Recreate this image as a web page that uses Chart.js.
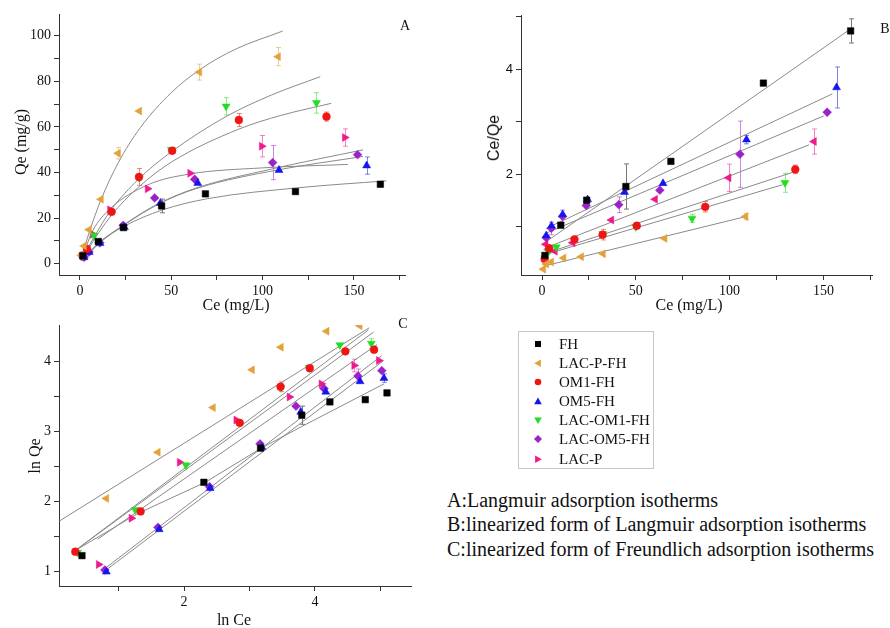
<!DOCTYPE html>
<html>
<head>
<meta charset="utf-8">
<script src="https://cdn.jsdelivr.net/npm/chart.js@4.4.1/dist/chart.umd.min.js"></script>
<style>
  body { margin: 0; background: #fff; width: 890px; height: 628px; position: relative; overflow: hidden;
         font-family: 'Liberation Serif', 'Times New Roman', serif; color: #111; }
  canvas { position: absolute; }
  .t { position: absolute; white-space: nowrap; line-height: 1; transform: translate(-50%, -50%); }
  .r { transform: translate(-50%, -50%) rotate(-90deg); }
  .cap { position: absolute; left: 447px; font-size: 20px; white-space: nowrap; line-height: 1; transform: translateY(-50%); }
  #legend { position: absolute; left: 518px; top: 331px; width: 134px; height: 136px; border: 1px solid #c8c8c8; }
  .li { position: absolute; left: 0; font-size: 15px; line-height: 1; }
  .li svg { position: absolute; left: 14px; top: -5px; }
  .li span { position: absolute; left: 40px; top: -7px; white-space: nowrap; }
</style>
</head>
<body>
<canvas id="chartA" width="430" height="310" style="left:0;top:0"></canvas>
<canvas id="chartB" width="430" height="310" style="left:460px;top:0"></canvas>
<canvas id="chartC" width="430" height="318" style="left:0;top:310px"></canvas>

<div class="t" style="left:405px;top:26px;font-size:14px">A</div>
<div class="t" style="left:885px;top:29px;font-size:14px">B</div>
<div class="t" style="left:403px;top:324px;font-size:14px">C</div>

<div class="t r" style="left:21px;top:142px;font-size:16px">Qe (mg/g)</div>
<div class="t" style="left:236px;top:305px;font-size:16px">Ce (mg/L)</div>
<div class="t r" style="left:494px;top:138px;font-size:16px;font-family:'Liberation Sans',Arial,sans-serif">Ce/Qe</div>
<div class="t" style="left:689px;top:305px;font-size:16px">Ce (mg/L)</div>
<div class="t r" style="left:35px;top:456px;font-size:16px">ln Qe</div>
<div class="t" style="left:234px;top:620px;font-size:16px">ln Ce</div>

<div id="legend"></div>

<div class="cap" style="top:500px">A:Langmuir adsorption isotherms</div>
<div class="cap" style="top:524px">B:linearized form of Langmuir adsorption isotherms</div>
<div class="cap" style="top:549px">C:linearized form of Freundlich adsorption isotherms</div>

<script>
// series
const seriesNames = ['FH', 'LAC-P-FH', 'OM1-FH', 'OM5-FH', 'LAC-OM1-FH', 'LAC-OM5-FH', 'LAC-P'];
const seriesColors = ['#000000', '#e3a13a', '#f01414', '#1414f0', '#22dd22', '#9a22c8', '#ee1a8c'];
const pointStyles = ['rect', 'triangle', 'circle', 'triangle', 'triangle', 'rectRot', 'triangle'];
const pointSizes = [4.6, 4.6, 3.9, 4.6, 4.6, 4.4, 4.6];
const rotationsAC = [0, -90, 0, 0, 180, 0, 90];
const rotationsB = [0, -90, 0, 0, 180, 0, -90];

// equilibrium concentration Ce (mg/L) and uptake Qe (mg/g)
const ceFH = [1.55, 10, 23.8, 44.7, 68.7, 118, 164.5];
const qeFH = [3.4, 9.7, 15.8, 25.3, 30.6, 31.6, 34.8];
const ceLacPFH = [0.7, 2.25, 4.95, 11.5, 20.9, 32.5, 65.4, 108.5];
const qeLacPFH = [3.6, 7.7, 14.9, 28.2, 48.4, 66.9, 84, 90.8];
const ceOM1 = [1.4, 3.8, 17.3, 32.3, 50.5, 87, 135];
const qeOM1 = [3.6, 6.4, 22.7, 38, 49.5, 63, 64.5];
const ceOM5 = [2.25, 5.05, 11, 24.3, 44, 64.5, 109, 157];
const qeOM5 = [2.7, 4.95, 8.9, 16, 26.5, 35.3, 41, 43];
const ceLacOM1 = [1.45, 3.5, 7.6, 32.5, 50, 80, 129.5];
const qeLacOM1 = [3.56, 6.55, 12.4, 37.5, 50, 69, 70.5];
const ceLacOM5 = [2.2, 4.95, 10.9, 23.6, 40.9, 62.8, 105.5, 152];
const qeLacOM5 = [2.77, 5.1, 9.1, 16.8, 28.8, 37, 44.3, 47.8];
const ceLacP = [2.0, 3.3, 6.9, 16.4, 37, 60.3, 99.5, 145];
const qeLacP = [3.0, 5.8, 12.9, 23.6, 32.8, 39.6, 51.5, 55.3];

const ceAll = [ceFH, ceLacPFH, ceOM1, ceOM5, ceLacOM1, ceLacOM5, ceLacP];
const qeAll = [qeFH, qeLacPFH, qeOM1, qeOM5, qeLacOM1, qeLacOM5, qeLacP];

// fitted curves (Ce, Qe)
const curvesA = [
  [[1.5, 1.8], [10, 9], [24, 16.3], [45, 23.5], [70, 28.5], [120, 33.3], [167.8, 36.3]],
  [[0.7, 2.1], [2.5, 7], [5, 13.6], [11.5, 28], [20.8, 44], [33, 59.6], [50, 75], [66, 85.3], [85, 94], [111, 102]],
  [[1.4, 2.1], [3.8, 5.5], [17, 21], [32, 33.5], [50, 44.5], [87, 59], [110, 65], [137.6, 70.3]],
  [[2.25, 2.1], [5, 4.5], [11, 9.2], [24.3, 17], [44, 26.5], [64, 33], [109, 41.2], [155, 47]],
  [[1.45, 2.3], [3.5, 5.5], [7.6, 11.5], [17, 23.5], [32, 37], [50, 49], [80, 64.5], [105, 74], [131.6, 82]],
  [[2.2, 2.2], [5, 4.6], [11, 9.5], [23.6, 16.8], [41, 25.5], [63, 33], [105, 41.5], [155, 49.9]],
  [[2, 4.5], [7, 14.5], [16.4, 24], [37, 34.5], [60, 39.3], [100, 42], [146.7, 43.5]]
];
// fitted lines (Ce, Ce/Qe)
const linesB = [
  [[1.55, 0.7], [163.1, 4.73]],
  [[0.7, 0.25], [108.1, 1.19]],
  [[1.4, 0.49], [133.9, 2.04]],
  [[2.25, 0.97], [154.8, 3.53]],
  [[1.45, 0.47], [128.2, 1.8]],
  [[2.2, 0.88], [150.2, 3.11]],
  [[2.0, 0.6], [142.4, 2.56]]
];
// fitted lines (ln Ce, ln Qe)
const linesC = [
  [[0.34, 1.3], [1.3, 1.83], [2.32, 2.27], [3.18, 2.76], [3.8, 3.07], [5.06, 3.68]],
  [[0.096, 1.72], [4.83, 4.48]],
  [[0.34, 1.3], [4.9, 4.42]],
  [[0.81, 1.02], [5.05, 4.01]],
  [[0.34, 1.3], [4.82, 4.45]],
  [[0.79, 1.04], [5.02, 4.08]],
  [[0.68, 1.46], [4.95, 4.24]]
];

// error bars: [series, point, half height]
const errorsA = [[0, 3, 3], [1, 4, 2.5], [1, 6, 3.5], [1, 7, 4], [2, 3, 3.7], [2, 5, 2.8], [2, 6, 2],
                 [3, 7, 3.8], [4, 5, 3.8], [4, 6, 4.5], [5, 6, 7.5], [6, 6, 4.7], [6, 7, 3.8]];
const errorsB = [[0, 3, 0.43], [0, 6, 0.23], [0, 2, 0.05], [3, 7, 0.39], [3, 6, 0.08], [5, 6, 0.63],
                 [5, 4, 0.15], [5, 1, 0.12], [5, 2, 0.12], [6, 6, 0.26], [6, 7, 0.24], [2, 5, 0.1],
                 [2, 6, 0.08], [2, 3, 0.1], [4, 6, 0.18], [4, 5, 0.08], [1, 7, 0.06]];
const errorsC = [[0, 3, 0.13], [6, 6, 0.09], [5, 6, 0.1], [2, 3, 0.07], [4, 6, 0.07], [3, 7, 0.06]];

// ticks
const ticksAx = [0, 25, 50, 75, 100, 125, 150, 175];
const labelsAx = [0, 50, 100, 150];
const ticksAy = [0, 10, 20, 30, 40, 50, 60, 70, 80, 90, 100];
const labelsAy = [0, 20, 40, 60, 80, 100];
const ticksBy = [1, 2, 3, 4, 5];
const labelsBy = [2, 4];
const ticksCx = [1, 2, 3, 4, 5];
const labelsCx = [2, 4];
const ticksCy = [1, 1.5, 2, 2.5, 3, 3.5, 4];
const labelsCy = [1, 2, 3, 4];

const serif = { family: "'Liberation Serif', 'Times New Roman', serif", size: 14 };
const sans = { family: "'Liberation Sans', Arial, sans-serif", size: 13 };

// draws vertical error bars behind the markers
const errorBars = {
  id: 'errorBars',
  beforeDatasetsDraw(chart, args, opts) {
    const ctx = chart.ctx;
    const xs = chart.scales.x, ys = chart.scales.y;
    ctx.save();
    ctx.lineWidth = 1;
    opts.list.forEach(([s, i, e]) => {
      const p = chart.data.datasets[s].data[i];
      if (!p || p.x < xs.min || p.x > xs.max) return;
      const px = Math.round(xs.getPixelForValue(p.x)) + 0.5;
      const y1 = ys.getPixelForValue(p.y - e);
      const y2 = ys.getPixelForValue(p.y + e);
      ctx.strokeStyle = seriesColors[s] === '#000000' ? '#777777' : seriesColors[s] + '88';
      ctx.beginPath();
      ctx.moveTo(px, y1); ctx.lineTo(px, y2);
      ctx.moveTo(px - 2.5, y1); ctx.lineTo(px + 2.5, y1);
      ctx.moveTo(px - 2.5, y2); ctx.lineTo(px + 2.5, y2);
      ctx.stroke();
    });
    ctx.restore();
  }
};

function pointSets(xsList, ysList, rot) {
  return seriesNames.map((name, s) => ({
    label: name,
    data: xsList[s].map((x, i) => ({ x: x, y: ysList[s][i] })),
    pointStyle: pointStyles[s],
    pointRotation: rot[s],
    pointRadius: pointSizes[s],
    pointHoverRadius: pointSizes[s],
    backgroundColor: seriesColors[s],
    borderColor: seriesColors[s],
    borderWidth: 0.5,
    showLine: false
  }));
}

function fitSets(lines, smooth) {
  return lines.map(pts => ({
    label: '',
    data: pts.map(p => ({ x: p[0], y: p[1] })),
    showLine: true,
    pointRadius: 0,
    borderColor: '#8a8a8a',
    borderWidth: 1,
    cubicInterpolationMode: smooth ? 'monotone' : 'default',
    fill: false
  }));
}

function axis(min, max, tickVals, labelVals, size, horizontal, font) {
  return {
    type: 'linear',
    min: min,
    max: max,
    afterBuildTicks: s => { s.ticks = tickVals.map(v => ({ value: v })); },
    afterFit: s => { if (horizontal) s.height = size; else s.width = size; },
    ticks: {
      autoSkip: false, maxRotation: 0, padding: 3, color: '#111', font: font,
      callback: v => labelVals.includes(v) ? String(v) : ''
    },
    grid: { drawOnChartArea: false, tickLength: 5, color: '#333', tickColor: '#333' },
    border: { color: '#333', width: 1 }
  };
}

function makeChart(id, datasets, errors, pad, xAxis, yAxis) {
  return new Chart(document.getElementById(id).getContext('2d'), {
    type: 'scatter',
    data: { datasets: datasets },
    options: {
      responsive: false,
      animation: false,
      events: [],
      layout: { padding: pad },
      plugins: { legend: { display: false }, tooltip: { enabled: false }, errorBars: { list: errors } },
      scales: { x: xAxis, y: yAxis }
    },
    plugins: [errorBars]
  });
}

// derived coordinates for panels B and C
const ratioAll = ceAll.map((ce, s) => ce.map((c, i) => c / qeAll[s][i]));
const lnCeAll = ceAll.map(ce => ce.map(c => Math.log(c)));
const lnQeAll = qeAll.map(qe => qe.map(q => Math.log(q)));

makeChart('chartA',
  pointSets(ceAll, qeAll, rotationsAC).concat(fitSets(curvesA, true)),
  errorsA, { top: 14, right: 25, left: 0, bottom: 0 },
  axis(-11.5, 178, ticksAx, labelsAx, 35, true, serif),
  axis(-5, 109.5, ticksAy, labelsAy, 59, false, serif));

makeChart('chartB',
  pointSets(ceAll, ratioAll, rotationsB).concat(fitSets(linesB, false)),
  errorsB, { top: 15, right: 18, left: 0, bottom: 0 },
  axis(-11.2, 175.9, ticksAx, labelsAx, 35, true, serif),
  axis(0.083, 5.03, ticksBy, labelsBy, 61, false, sans));

makeChart('chartC',
  pointSets(lnCeAll, lnQeAll, rotationsAC).concat(fitSets(linesC, false)),
  errorsC, { top: 15, right: 19, left: 0, bottom: 0 },
  axis(0.087, 5.47, ticksCx, labelsCx, 42, true, serif),
  axis(0.79, 4.52, ticksCy, labelsCy, 59, false, serif));

// legend
const legendRows = [11.7, 30.8, 50, 69.1, 88.3, 107.4, 126.5];
const legend = document.getElementById('legend');
seriesNames.forEach((name, s) => {
  const c = seriesColors[s];
  let shape;
  if (pointStyles[s] === 'rect') shape = `<rect x="2" y="2" width="6" height="6" fill="${c}"/>`;
  else if (pointStyles[s] === 'circle') shape = `<circle cx="5" cy="5" r="3.3" fill="${c}"/>`;
  else if (pointStyles[s] === 'rectRot') shape = `<polygon points="5,1 9,5 5,9 1,5" fill="${c}"/>`;
  else shape = `<polygon points="5,1.5 8.8,8.2 1.2,8.2" fill="${c}" transform="rotate(${rotationsAC[s]} 5 5.3)"/>`;
  const row = document.createElement('div');
  row.className = 'li';
  row.style.top = legendRows[s] + 'px';
  row.innerHTML = `<svg width="10" height="10">${shape}</svg><span>${name}</span>`;
  legend.appendChild(row);
});
</script>
</body>
</html>
